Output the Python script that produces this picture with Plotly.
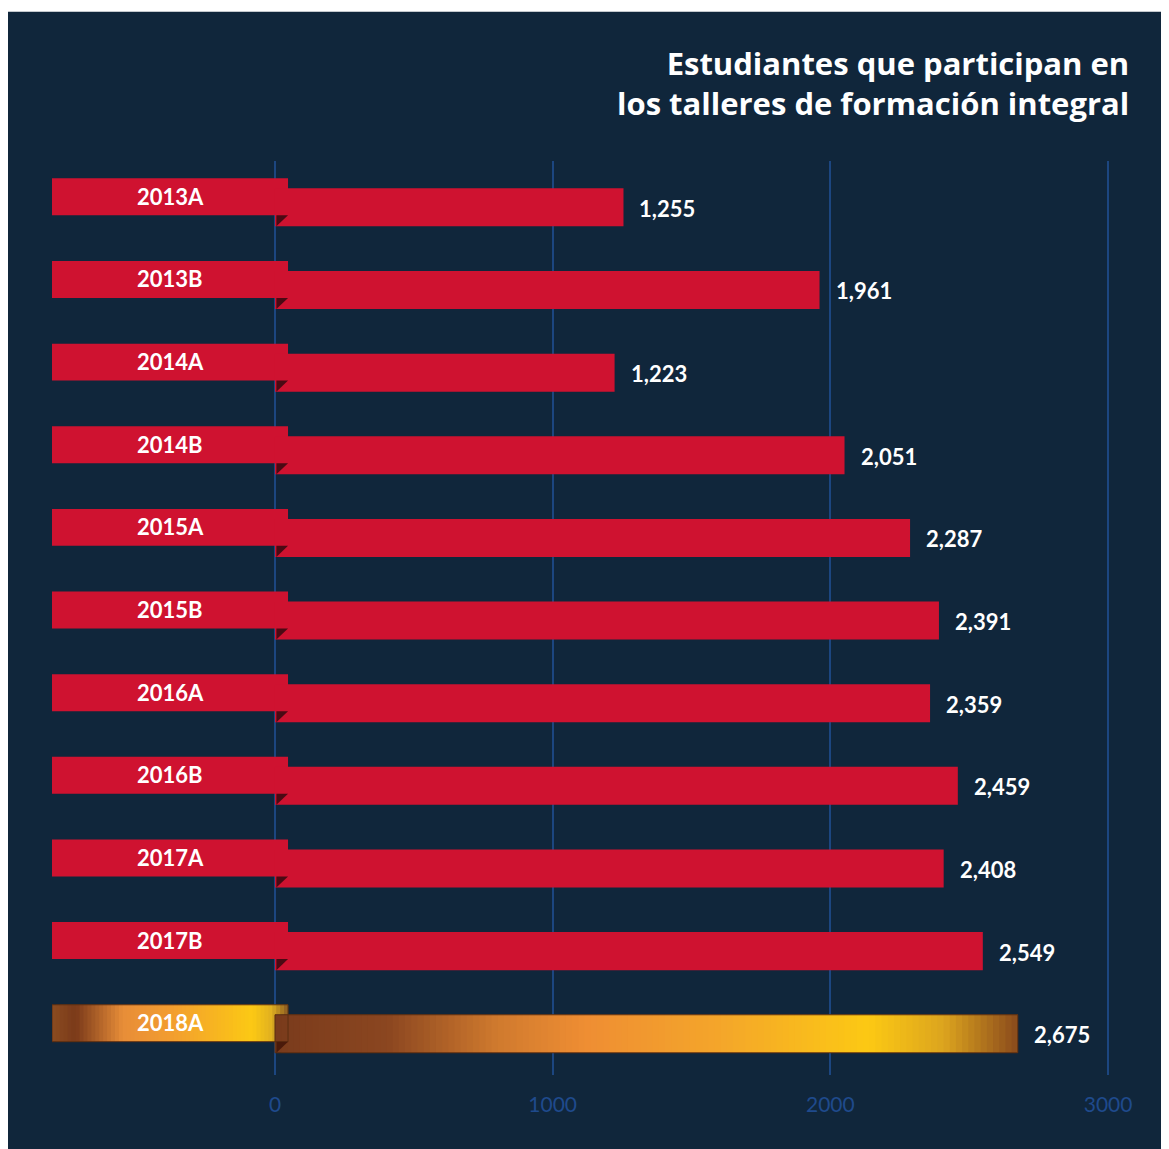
import plotly.graph_objects as go

periodos = ['2013A', '2013B', '2014A', '2014B', '2015A', '2015B',
            '2016A', '2016B', '2017A', '2017B', '2018A']
estudiantes = [1255, 1961, 1223, 2051, 2287, 2391, 2359, 2459, 2408, 2549, 2675]
ticks_x = [0, 1000, 2000, 3000]

FONDO = '#10263b'
ROJO = '#cf1230'
AZUL = '#1c4680'
X_MIN, X_MAX = -803, 3079
CINTA_INI, CINTA_FIN = -803, 47

# posiciones verticales relativas a cada categoria (en unidades de categoria)
CINTA_OFF, CINTA_W = -0.29, 0.447
BARRA_OFF, BARRA_W = -0.169, 0.46

grad_barra = [(0.0, '#7a3b1c'), (0.15, '#8a4620'), (0.30, '#d07a2e'), (0.42, '#ef8e33'),
              (0.60, '#f4a62a'), (0.80, '#fcc914'), (0.90, '#dca41e'), (1.0, '#8a4a1c')]
grad_cinta = [(0.0, '#8c4c20'), (0.10, '#7a3a1a'), (0.30, '#e88d38'), (0.50, '#f29d30'),
              (0.85, '#fcc914'), (0.93, '#e0b020'), (1.0, '#8a5a22')]


def hex_rgb(h):
    h = h.lstrip('#')
    return [int(h[i:i + 2], 16) for i in (0, 2, 4)]


def color_en(stops, t):
    for (t0, c0), (t1, c1) in zip(stops[:-1], stops[1:]):
        if t0 <= t <= t1:
            a, b = hex_rgb(c0), hex_rgb(c1)
            f = (t - t0) / (t1 - t0) if t1 > t0 else 0
            return 'rgb(%d,%d,%d)' % tuple(round(a[k] + (b[k] - a[k]) * f) for k in range(3))
    return stops[-1][1]


def degradado(inicio, fin, stops, y, off, w, n=90):
    paso = (fin - inicio) / n
    bases = [inicio + i * paso for i in range(n)]
    anchos = [min(3 * paso, fin - b) for b in bases]
    colores = [color_en(stops, (i + 0.5) / n) for i in range(n)]
    return go.Bar(
        y=[y] * n, x=anchos, base=bases, orientation='h',
        offset=off, width=w, marker=dict(color=colores, line=dict(width=0)),
        hoverinfo='skip', showlegend=False,
    )


fig = go.Figure()

rojos = periodos[:-1]
fig.add_trace(go.Bar(
    y=rojos, x=[CINTA_FIN - CINTA_INI] * len(rojos), base=CINTA_INI, orientation='h',
    offset=CINTA_OFF, width=CINTA_W, marker=dict(color=ROJO, line=dict(width=0)),
    hoverinfo='skip', showlegend=False,
))
fig.add_trace(go.Bar(
    y=rojos, x=estudiantes[:-1], base=0, orientation='h',
    offset=BARRA_OFF, width=BARRA_W, marker=dict(color=ROJO, line=dict(width=0)),
    showlegend=False,
))

ultimo = periodos[-1]
fig.add_trace(degradado(CINTA_INI, CINTA_FIN, grad_cinta, ultimo, CINTA_OFF, CINTA_W, 60))
fig.add_trace(degradado(0, estudiantes[-1], grad_barra, ultimo, BARRA_OFF, BARRA_W, 120))

shapes = []
i_ult = len(periodos) - 1
shapes.append(dict(type='rect', xref='x', yref='y', x0=CINTA_INI, x1=CINTA_FIN,
                   y0=i_ult + CINTA_OFF, y1=i_ult + CINTA_OFF + CINTA_W,
                   line=dict(color='#5a2e12', width=1)))
shapes.append(dict(type='rect', xref='x', yref='y', x0=0, x1=estudiantes[-1],
                   y0=i_ult + BARRA_OFF, y1=i_ult + BARRA_OFF + BARRA_W,
                   line=dict(color='#5a2e12', width=1)))

# pliegue oscuro bajo cada cinta
for i in range(len(periodos)):
    y_a = i + CINTA_OFF + CINTA_W
    y_b = i + BARRA_OFF + BARRA_W
    oscuro = '#4a0a14' if i < i_ult else '#4a1a0a'
    shapes.append(dict(type='path', xref='x', yref='y',
                       path=f'M 5,{y_a} L {CINTA_FIN},{y_a} L 5,{y_b} Z',
                       fillcolor=oscuro, line=dict(width=0)))

# fondo oscuro (franja blanca arriba)
shapes.append(dict(type='rect', xref='paper', yref='paper', layer='below',
                   x0=-0.06, x1=1.06, y0=-0.1, y1=1.1633,
                   fillcolor=FONDO, line=dict(width=0)))

annotations = []
for p, v in zip(periodos, estudiantes):
    annotations.append(dict(x=(CINTA_INI + CINTA_FIN) / 2, y=p, xref='x', yref='y',
                            text=f'<b>{p}</b>', showarrow=False, yshift=6,
                            font=dict(family='Lato', size=22, color='white')))
    annotations.append(dict(x=v, y=p, xref='x', yref='y', xanchor='left',
                            text=f'<b>{v:,}</b>', showarrow=False, xshift=14, yshift=-6,
                            font=dict(family='Lato', size=22, color='white')))

annotations.append(dict(
    x=1.001, y=1.132, xref='paper', yref='paper', xanchor='right', yanchor='top',
    align='right', showarrow=False,
    text='<b>Estudiantes que participan en<br>los talleres de formación integral</b>',
    font=dict(family='Open Sans', size=31, color='white'),
))

fig.update_layout(
    width=1161, height=1141,
    margin=dict(l=44, r=39, t=153, b=74),
    paper_bgcolor='white',
    plot_bgcolor='rgba(0,0,0,0)',
    barmode='overlay',
    shapes=shapes,
    annotations=annotations,
    font=dict(family='Lato'),
)
fig.update_xaxes(
    range=[X_MIN, X_MAX], tickvals=ticks_x, showgrid=True, gridcolor=AZUL, gridwidth=2,
    zeroline=False, showline=False, ticks='', ticklabelstandoff=15,
    tickfont=dict(family='Lato', size=21, color='#1f4a8c'),
)
fig.update_yaxes(
    type='category', categoryorder='array', categoryarray=periodos,
    range=[10.56, -0.5], showgrid=False, zeroline=False, showticklabels=False,
)

fig.write_html("out.html")
